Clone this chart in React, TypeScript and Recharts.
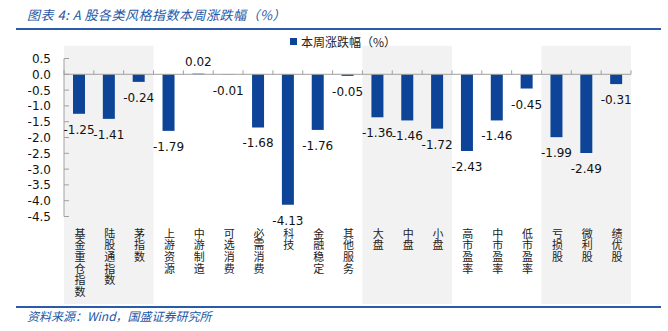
import {
  BarChart,
  Bar,
  XAxis,
  YAxis,
  ReferenceArea,
  ReferenceLine,
  LabelList,
} from "recharts";

const categories = [
  "基金重仓指数",
  "陆股通指数",
  "茅指数",
  "上游资源",
  "中游制造",
  "可选消费",
  "必需消费",
  "科技",
  "金融稳定",
  "其他服务",
  "大盘",
  "中盘",
  "小盘",
  "高市盈率",
  "中市盈率",
  "低市盈率",
  "亏损股",
  "微利股",
  "绩优股",
];

const weeklyChange = [
  -1.25, -1.41, -0.24, -1.79, 0.02, -0.01, -1.68, -4.13, -1.76, -0.05, -1.36,
  -1.46, -1.72, -2.43, -1.46, -0.45, -1.99, -2.49, -0.31,
];

const yTicks = [0.5, 0, -0.5, -1, -1.5, -2, -2.5, -3, -3.5, -4, -4.5];

// groups that get the grey background
const shadedGroups = [
  ["基金重仓指数", "茅指数"],
  ["大盘", "小盘"],
  ["亏损股", "绩优股"],
];

const seriesName = "本周涨跌幅（%）";

const data = categories.map((name, i) => ({ name, value: weeklyChange[i] }));

const BLUE = "#0d4497";
const TEXT_BLUE = "#2356a6";
const NUM_FONT = "'DejaVu Sans', Verdana, sans-serif";
const CJK_FONT = "'Noto Sans CJK SC', sans-serif";

const YTick = (props: any) => {
  const { x, y, payload } = props;
  return (
    <g>
      <line x1={x} y1={y} x2={x + 5} y2={y} stroke="#a0a0a0" />
      <text
        x={x - 13}
        y={y + 4.5}
        textAnchor="end"
        fontSize={12}
        fontFamily={NUM_FONT}
        fill="#111"
      >
        {Number(payload.value).toFixed(1)}
      </text>
    </g>
  );
};

// category names are written top to bottom, one character per row
const XTick = (props: any) => {
  const { x, y, payload } = props;
  const chars = String(payload.value).split("");
  return (
    <g>
      {chars.map((c, i) => (
        <text
          key={i}
          x={x + 1}
          y={y + 21 + i * 11.7}
          textAnchor="middle"
          fontSize={11}
          fontFamily={CJK_FONT}
          fill="#222"
        >
          {c}
        </text>
      ))}
    </g>
  );
};

const ZeroAxis = (props: any) => {
  const { x1, y1, x2 } = props;
  const n = categories.length;
  const step = (x2 - x1) / n;
  return (
    <g>
      <line x1={x1} y1={y1} x2={x2} y2={y1} stroke="#a0a0a0" />
      {Array.from({ length: n + 1 }).map((_, i) => (
        <line
          key={i}
          x1={x1 + i * step}
          y1={y1}
          x2={x1 + i * step}
          y2={y1 - 4}
          stroke="#a0a0a0"
        />
      ))}
    </g>
  );
};

const ValueLabel = (props: any) => {
  const { x, y, width, height, value } = props;
  const top = Math.min(y, y + height);
  const bottom = Math.max(y, y + height);
  const ty = value < 0 ? bottom + 20 : top - 8;
  return (
    <text
      x={x + width / 2}
      y={ty}
      textAnchor="middle"
      fontSize={12}
      fontFamily={NUM_FONT}
      fill="#111"
    >
      {Number(value).toFixed(2)}
    </text>
  );
};

export default function App() {
  return (
    <div
      style={{
        position: "absolute",
        left: 0,
        top: 0,
        width: 668,
        height: 331,
        background: "#fff",
        overflow: "hidden",
      }}
    >
      <div
        style={{
          position: "absolute",
          left: 27,
          top: 6,
          fontSize: 13,
          lineHeight: "18px",
          fontStyle: "italic",
          color: TEXT_BLUE,
          fontFamily: CJK_FONT,
          whiteSpace: "nowrap",
          letterSpacing: 0.5,
        }}
      >
        图表 4: A 股各类风格指数本周涨跌幅（%）
      </div>
      <div
        style={{
          position: "absolute",
          left: 16,
          top: 28,
          width: 645,
          height: 2,
          background: "#2b5aa8",
        }}
      />

      <div style={{ position: "absolute", left: 0, top: 0 }}>
        <BarChart
          width={668}
          height={331}
          data={data}
          margin={{ top: 58.5, right: 37, bottom: 14.5, left: 14 }}
        >
          {shadedGroups.map(([a, b]) => (
            <ReferenceArea
              key={a}
              x1={a}
              x2={b}
              y1={0.9}
              y2={-7.27}
              ifOverflow="visible"
              fill="#f2f2f2"
              fillOpacity={1}
              stroke="none"
            />
          ))}
          <XAxis
            dataKey="name"
            interval={0}
            height={100}
            axisLine={false}
            tickLine={false}
            tickSize={0}
            tickMargin={0}
            tick={<XTick />}
          />
          <YAxis
            type="number"
            domain={[-4.5, 0.5]}
            ticks={yTicks}
            interval={0}
            width={50}
            axisLine={{ stroke: "#a0a0a0" }}
            tickLine={false}
            tickSize={0}
            tickMargin={0}
            tick={<YTick />}
          />
          <ReferenceLine y={0} shape={<ZeroAxis />} />
          <Bar
            dataKey="value"
            name={seriesName}
            fill={BLUE}
            barSize={12}
            isAnimationActive={false}
          >
            <LabelList dataKey="value" content={<ValueLabel />} />
          </Bar>
        </BarChart>
      </div>

      <div
        style={{
          position: "absolute",
          left: 290,
          top: 38,
          width: 7,
          height: 7,
          background: BLUE,
        }}
      />
      <div
        style={{
          position: "absolute",
          left: 301,
          top: 33,
          fontSize: 12,
          lineHeight: "17px",
          fontFamily: CJK_FONT,
          color: "#222",
          whiteSpace: "nowrap",
        }}
      >
        {seriesName}
      </div>

      <div
        style={{
          position: "absolute",
          left: 16,
          top: 306,
          width: 645,
          height: 2,
          background: "#2b5aa8",
        }}
      />
      <div
        style={{
          position: "absolute",
          left: 27,
          top: 308,
          fontSize: 12,
          lineHeight: "16px",
          fontStyle: "italic",
          color: TEXT_BLUE,
          fontFamily: CJK_FONT,
          whiteSpace: "nowrap",
        }}
      >
        资料来源：Wind，国盛证券研究所
      </div>
    </div>
  );
}
